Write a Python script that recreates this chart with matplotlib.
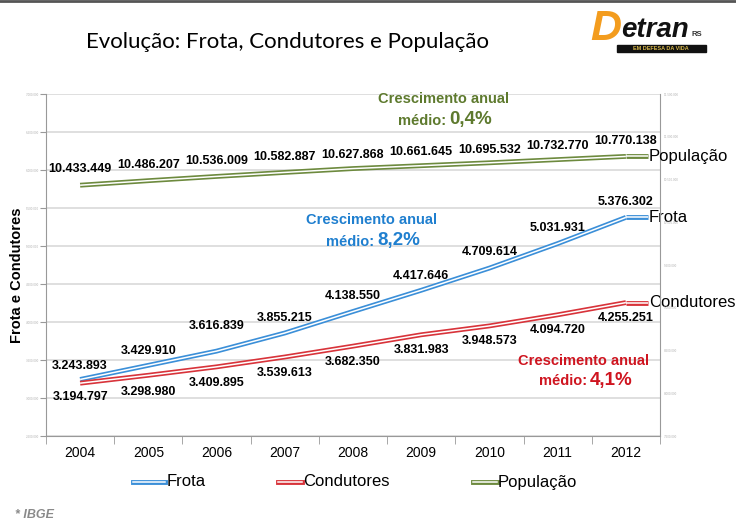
import numpy as np
import matplotlib
matplotlib.use("Agg")
import matplotlib.pyplot as plt
import matplotlib.patheffects as pe
from matplotlib.lines import Line2D
from matplotlib.patches import Rectangle

# ---------------- data ----------------
years = ['2004', '2005', '2006', '2007', '2008', '2009', '2010', '2011', '2012']
frota = [3243893, 3429910, 3616839, 3855215, 4138550, 4417646, 4709614, 5031931, 5376302]
condutores = [3194797, 3298980, 3409895, 3539613, 3682350, 3831983, 3948573, 4094720, 4255251]
populacao = [10433449, 10486207, 10536009, 10582887, 10627868, 10661645, 10695532, 10732770, 10770138]
series_names = ['Frota', 'Condutores', 'População']
growth = ['8,2%', '4,1%', '0,4%']

# label offsets (points) relative to each data point
off_frota = [9.7, 10, 18, 10.8, 11.2, 10, 11.5, 11.2, 11.1]
off_cond = [-10, -12.2, -11.5, -11.5, -11.5, -10.8, -10.8, -10.8, -11.2]
off_pop = [11.5, 11.5, 10.8, 10.8, 10, 10, 9.4, 10, 10.8]

C_BLUE = '#3b8fd8'
C_RED = '#d8333a'
C_GREEN = '#6d8a3e'
T_BLUE = '#1f7fcf'
T_RED = '#cf1520'
T_GREEN = '#5e7a2e'

W, H = 736, 522
fig = plt.figure(figsize=(W / 100, H / 100), dpi=100)


def P(x, y):
    return (x / W, 1 - y / H)


def fmt(v):
    return f"{v:,}".replace(',', '.')


ax = fig.add_axes([46 / W, 1 - 436 / H, (660 - 46) / W, (436 - 94) / H])
ax2 = ax.twinx()

x = np.arange(len(years))
FONT = 'Liberation Sans'


def dbl(axis, xs, ys, color, clip=True):
    axis.plot(xs, ys, color='white', lw=1.1, solid_capstyle='butt', clip_on=clip,
              path_effects=[pe.Stroke(linewidth=3.5, foreground=color), pe.Normal()], zorder=3)


dbl(ax, x, frota, C_BLUE)
dbl(ax, x, condutores, C_RED)
dbl(ax2, x, populacao, C_GREEN)
# short extensions to series name labels
ext = 0.32
dbl(ax, [x[-1], x[-1] + ext], [frota[-1]] * 2, C_BLUE, clip=False)
dbl(ax, [x[-1], x[-1] + ext], [condutores[-1]] * 2, C_RED, clip=False)
dbl(ax2, [x[-1], x[-1] + ext], [populacao[-1]] * 2, C_GREEN, clip=False)
ax.text(x[-1] + ext + 0.02, frota[-1], series_names[0], fontsize=12, family=FONT, va='center', ha='left', clip_on=False)
ax.text(x[-1] + ext + 0.02, condutores[-1], series_names[1], fontsize=12, family=FONT, va='center', ha='left', clip_on=False)
ax2.text(x[-1] + ext + 0.02, populacao[-1], series_names[2], fontsize=12, family=FONT, va='center', ha='left', clip_on=False)

# data labels
for i in range(len(years)):
    ax.annotate(fmt(frota[i]), (x[i], frota[i]), xytext=(0, off_frota[i]), textcoords='offset points',
                ha='center', va='center', fontsize=9, fontweight='bold', family=FONT, zorder=5)
    ax.annotate(fmt(condutores[i]), (x[i], condutores[i]), xytext=(0, off_cond[i]), textcoords='offset points',
                ha='center', va='center', fontsize=9, fontweight='bold', family=FONT, zorder=5)
    ax2.annotate(fmt(populacao[i]), (x[i], populacao[i]), xytext=(0, off_pop[i]), textcoords='offset points',
                 ha='center', va='center', fontsize=9, fontweight='bold', family=FONT, zorder=5)

# axes setup
ax.set_xlim(-0.5, len(years) - 0.5)
ax.set_ylim(2.5e6, 7.0e6)
ax2.set_ylim(7.5e6, 11.5e6)
ax.set_yticks(np.arange(2.5e6, 7.01e6, 0.5e6))
ax2.set_yticks(np.arange(7.5e6, 11.51e6, 0.5e6))
ax.set_yticklabels([fmt(int(v)) for v in ax.get_yticks()])
ax2.set_yticklabels([fmt(int(v)) for v in ax2.get_yticks()])
ax.tick_params(axis='y', labelsize=2, labelcolor='#b0b0b0', length=4.3, color='#999999', pad=0.5)
ax2.tick_params(axis='y', labelsize=2, labelcolor='#b0b0b0', length=0, pad=2.5)
ax.set_xticks(x)
ax.set_xticklabels(years, fontsize=10, family=FONT)
ax.tick_params(axis='x', length=0, pad=7)
ax.set_xticks(np.arange(-0.5, len(years), 1), minor=True)
ax.tick_params(axis='x', which='minor', length=6, color='#999999')
ax.grid(axis='y', color='#d9d9d9', lw=1.2)
ax.set_axisbelow(True)
for s in ['top', 'right']:
    ax.spines[s].set_visible(False)
for s in ['top', 'left', 'bottom']:
    ax2.spines[s].set_visible(False)
ax.spines['left'].set_color('#999999')
ax.spines['bottom'].set_color('#999999')
ax2.spines['right'].set_color('#999999')

fig.text(*P(17, 275), 'Frota e Condutores', rotation=90, fontsize=10.5, fontweight='bold',
         family=FONT, ha='center', va='center')

# growth annotations
def growth_note(cx, y1, y2, split, pct, color):
    fig.text(*P(cx, y1), 'Crescimento anual', color=color, fontsize=10.5, fontweight='bold',
             family=FONT, ha='center', va='center')
    fig.text(*P(split - 3, y2 + 1), 'médio:', color=color, fontsize=10.5, fontweight='bold',
             family=FONT, ha='right', va='center')
    fig.text(*P(split, y2), pct, color=color, fontsize=13.5, fontweight='bold',
             family=FONT, ha='left', va='center')

growth_note(443, 99, 120, 449, growth[2], T_GREEN)
growth_note(371, 220, 241, 377, growth[0], T_BLUE)
growth_note(584, 361, 380, 590, growth[1], T_RED)

# legend (manual)
for (lx0, lx1, tx, name, col) in [(133, 165, 167, series_names[0], C_BLUE),
                                  (278, 302, 303, series_names[1], C_RED),
                                  (473, 497, 498, series_names[2], C_GREEN)]:
    a, b = P(lx0, 482), P(lx1, 482)
    fig.add_artist(Line2D([a[0], b[0]], [a[1], b[1]], color='white', lw=1.1, transform=fig.transFigure,
                          path_effects=[pe.Stroke(linewidth=3.5, foreground=col), pe.Normal()]))
    fig.text(*P(tx, 482), name, fontsize=12, family=FONT, ha='left', va='center')

# title
fig.text(*P(288, 42), 'Evolução: Frota, Condutores e População', fontsize=16, family='Lato',
         ha='center', va='center')

# top border
fig.add_artist(Line2D([0, 1], [1 - 1 / H, 1 - 1 / H], color='#555555', lw=2, transform=fig.transFigure))

# source note
fig.text(*P(15, 515), '* IBGE', fontsize=9, fontweight='bold', style='italic', color='#8a8a8a',
         family=FONT, ha='left', va='center')

# logo (approximation)
fig.text(*P(590, 29), 'D', fontsize=31, fontweight='bold', style='italic', color='#f39c1e',
         family=FONT, ha='left', va='center')
fig.text(*P(621, 30), 'etran', fontsize=20, fontweight='bold', style='italic', color='#111111',
         family=FONT, ha='left', va='baseline' if False else 'center')
fig.text(*P(692, 35), 'RS', fontsize=5.5, fontweight='bold', color='#333333',
         family=FONT, ha='left', va='center')
r0 = P(617, 52)
fig.add_artist(Rectangle(r0, (706 - 617) / W, 7 / H, transform=fig.transFigure, color='#111111'))
fig.text(*P(661, 48.5), 'EM DEFESA DA VIDA', fontsize=4, fontweight='bold', color='#d8b84a',
         family=FONT, ha='center', va='center')

fig.savefig('out.png', dpi=100)
